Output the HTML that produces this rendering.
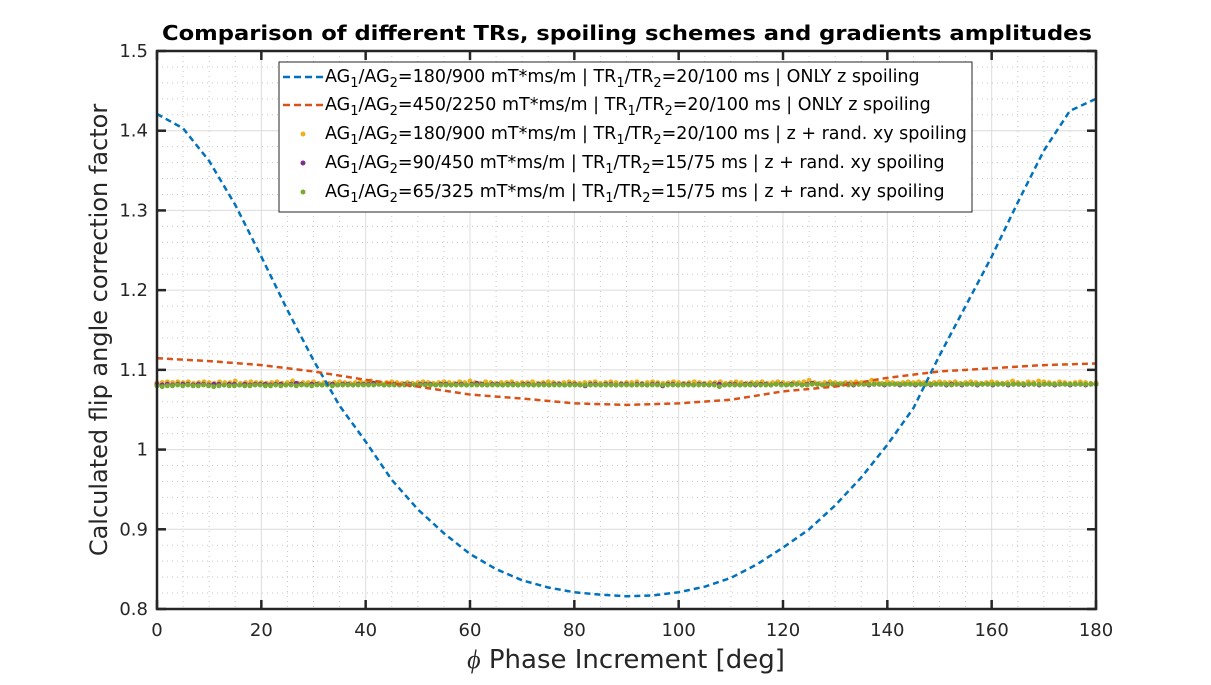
<!DOCTYPE html>
<html><head><meta charset="utf-8"><style>
body{margin:0;background:#fff}
svg{display:block;font-family:"DejaVu Sans","Liberation Sans",sans-serif}
</style></head><body>
<svg id="chart" width="1211" height="685" viewBox="0 0 1211 685">
<text x="627" y="40" text-anchor="middle" font-size="20" font-weight="bold" fill="#000" textLength="930" lengthAdjust="spacingAndGlyphs">Comparison of different TRs, spoiling schemes and gradients amplitudes</text>
<g id="grid"></g>
<g id="series"></g>
<g id="axes"></g>
<text x="626" y="668" text-anchor="middle" font-size="26" fill="#262626"><tspan font-family="Liberation Serif, serif" font-style="italic">ϕ</tspan> Phase Increment [deg]</text>
<text transform="translate(107,330) rotate(-90)" text-anchor="middle" font-size="24" fill="#262626">Calculated flip angle correction factor</text>
<g>
<rect x="279" y="62" width="693" height="150" fill="#fff" stroke="#262626" stroke-width="1"/>
<g font-size="17.5" fill="#000">
<line x1="283" y1="77" x2="323" y2="77" stroke="#0072BD" stroke-width="2.5" stroke-dasharray="7,4"/>
<text x="325" y="82">AG<tspan font-size="13" dy="5">1</tspan><tspan dy="-5">/AG</tspan><tspan font-size="13" dy="5">2</tspan><tspan dy="-5">=180/900 mT*ms/m | TR</tspan><tspan font-size="13" dy="5">1</tspan><tspan dy="-5">/TR</tspan><tspan font-size="13" dy="5">2</tspan><tspan dy="-5">=20/100 ms | ONLY z spoiling</tspan></text>
<line x1="283" y1="105" x2="323" y2="105" stroke="#D95319" stroke-width="2.5" stroke-dasharray="7,4"/>
<text x="325" y="110">AG<tspan font-size="13" dy="5">1</tspan><tspan dy="-5">/AG</tspan><tspan font-size="13" dy="5">2</tspan><tspan dy="-5">=450/2250 mT*ms/m | TR</tspan><tspan font-size="13" dy="5">1</tspan><tspan dy="-5">/TR</tspan><tspan font-size="13" dy="5">2</tspan><tspan dy="-5">=20/100 ms | ONLY z spoiling</tspan></text>
<circle cx="303" cy="134" r="2.5" fill="#EDB120"/>
<text x="325" y="139">AG<tspan font-size="13" dy="5">1</tspan><tspan dy="-5">/AG</tspan><tspan font-size="13" dy="5">2</tspan><tspan dy="-5">=180/900 mT*ms/m | TR</tspan><tspan font-size="13" dy="5">1</tspan><tspan dy="-5">/TR</tspan><tspan font-size="13" dy="5">2</tspan><tspan dy="-5">=20/100 ms | z + rand. xy spoiling</tspan></text>
<circle cx="303" cy="163" r="2.5" fill="#7E2F8E"/>
<text x="325" y="168">AG<tspan font-size="13" dy="5">1</tspan><tspan dy="-5">/AG</tspan><tspan font-size="13" dy="5">2</tspan><tspan dy="-5">=90/450 mT*ms/m | TR</tspan><tspan font-size="13" dy="5">1</tspan><tspan dy="-5">/TR</tspan><tspan font-size="13" dy="5">2</tspan><tspan dy="-5">=15/75 ms | z + rand. xy spoiling</tspan></text>
<circle cx="303" cy="192" r="2.5" fill="#77AC30"/>
<text x="325" y="197">AG<tspan font-size="13" dy="5">1</tspan><tspan dy="-5">/AG</tspan><tspan font-size="13" dy="5">2</tspan><tspan dy="-5">=65/325 mT*ms/m | TR</tspan><tspan font-size="13" dy="5">1</tspan><tspan dy="-5">/TR</tspan><tspan font-size="13" dy="5">2</tspan><tspan dy="-5">=15/75 ms | z + rand. xy spoiling</tspan></text>
</g></g>
</svg>
<script>
const xTicks=[0,20,40,60,80,100,120,140,160,180];
const yTicks=[0.8,0.9,1,1.1,1.2,1.3,1.4,1.5];
const yTickLabels=["0.8","0.9","1","1.1","1.2","1.3","1.4","1.5"];
const curveX=[0,5,10,15,20,25,30,35,40,45,50,55,60,65,70,75,80,85,90,95,100,105,110,115,120,125,130,135,140,145,150,155,160,165,170,175,180];
const blueY=[1.421,1.403,1.362,1.307,1.242,1.175,1.112,1.055,1.010,0.962,0.925,0.895,0.869,0.850,0.836,0.827,0.821,0.818,0.816,0.817,0.821,0.828,0.839,0.856,0.877,0.900,0.930,0.965,1.006,1.052,1.118,1.180,1.242,1.310,1.375,1.425,1.440];
const redX=[0,10,20,30,40,50,60,70,80,90,100,110,120,130,140,150,160,170,180];
const redY=[1.1146,1.111,1.106,1.098,1.0875,1.079,1.069,1.064,1.058,1.056,1.058,1.0625,1.073,1.079,1.090,1.098,1.102,1.106,1.108];
const yellowY=[1.084,1.084,1.085,1.084,1.085,1.084,1.085,1.083,1.084,1.085,1.084,1.083,1.085,1.084,1.084,1.086,1.083,1.084,1.085,1.084,1.084,1.083,1.084,1.085,1.083,1.084,1.086,1.083,1.084,1.084,1.085,1.083,1.084,1.083,1.084,1.085,1.084,1.083,1.084,1.085,1.084,1.086,1.084,1.083,1.084,1.085,1.084,1.083,1.084,1.083,1.084,1.085,1.084,1.083,1.084,1.085,1.084,1.083,1.085,1.084,1.086,1.084,1.083,1.085,1.084,1.083,1.084,1.084,1.085,1.083,1.084,1.084,1.085,1.083,1.084,1.085,1.084,1.083,1.084,1.085,1.084,1.083,1.084,1.084,1.085,1.083,1.084,1.085,1.084,1.083,1.084,1.084,1.085,1.083,1.084,1.085,1.084,1.083,1.084,1.085,1.084,1.083,1.084,1.085,1.084,1.083,1.084,1.084,1.085,1.083,1.084,1.085,1.084,1.083,1.084,1.084,1.085,1.083,1.084,1.085,1.084,1.083,1.084,1.084,1.085,1.087,1.084,1.083,1.084,1.085,1.084,1.083,1.084,1.084,1.085,1.084,1.083,1.087,1.084,1.083,1.085,1.084,1.083,1.084,1.085,1.084,1.085,1.084,1.083,1.084,1.085,1.084,1.084,1.085,1.083,1.084,1.085,1.084,1.083,1.084,1.085,1.084,1.083,1.084,1.086,1.084,1.083,1.085,1.084,1.086,1.085,1.084,1.083,1.085,1.084,1.083,1.084,1.085,1.084,1.083,1.084];
const purpleY=[1.082,1.081,1.082,1.081,1.082,1.082,1.082,1.081,1.082,1.082,1.081,1.082,1.082,1.081,1.082,1.082,1.081,1.082,1.081,1.082,1.082,1.082,1.081,1.082,1.082,1.081,1.082,1.083,1.082,1.081,1.082,1.082,1.081,1.082,1.082,1.081,1.082,1.082,1.081,1.082,1.082,1.082,1.083,1.082,1.081,1.082,1.082,1.081,1.082,1.082,1.081,1.082,1.082,1.082,1.081,1.082,1.082,1.081,1.082,1.082,1.081,1.082,1.083,1.082,1.081,1.082,1.082,1.081,1.082,1.082,1.081,1.082,1.082,1.081,1.082,1.082,1.081,1.082,1.082,1.081,1.082,1.082,1.081,1.080,1.082,1.082,1.081,1.082,1.082,1.081,1.082,1.082,1.081,1.082,1.082,1.081,1.082,1.082,1.080,1.082,1.082,1.081,1.082,1.082,1.081,1.082,1.082,1.081,1.082,1.082,1.081,1.082,1.082,1.081,1.082,1.082,1.081,1.082,1.082,1.081,1.082,1.082,1.081,1.082,1.082,1.081,1.082,1.083,1.082,1.081,1.082,1.082,1.081,1.082,1.082,1.081,1.082,1.082,1.081,1.082,1.082,1.081,1.082,1.082,1.081,1.082,1.082,1.081,1.082,1.082,1.081,1.082,1.082,1.081,1.082,1.082,1.081,1.082,1.082,1.081,1.082,1.082,1.081,1.082,1.082,1.081,1.082,1.082,1.081,1.082,1.082,1.081,1.082,1.082,1.081,1.082,1.082,1.081,1.082,1.082,1.081,1.082,1.082];
const greenY=[1.080,1.079,1.080,1.080,1.081,1.080,1.081,1.080,1.080,1.081,1.080,1.079,1.080,1.081,1.080,1.080,1.081,1.080,1.080,1.081,1.081,1.080,1.080,1.081,1.080,1.081,1.081,1.080,1.081,1.081,1.080,1.081,1.081,1.081,1.080,1.081,1.081,1.081,1.081,1.081,1.081,1.081,1.081,1.082,1.081,1.081,1.081,1.081,1.081,1.081,1.081,1.081,1.081,1.081,1.081,1.081,1.081,1.081,1.081,1.081,1.081,1.081,1.081,1.081,1.081,1.081,1.081,1.081,1.081,1.081,1.081,1.081,1.081,1.081,1.081,1.081,1.081,1.081,1.081,1.081,1.081,1.081,1.081,1.081,1.081,1.081,1.081,1.081,1.081,1.081,1.081,1.081,1.081,1.081,1.081,1.081,1.081,1.081,1.081,1.081,1.081,1.081,1.081,1.081,1.081,1.081,1.081,1.081,1.081,1.079,1.081,1.081,1.081,1.081,1.081,1.081,1.082,1.081,1.081,1.081,1.082,1.081,1.081,1.081,1.082,1.081,1.081,1.082,1.082,1.081,1.081,1.082,1.082,1.082,1.081,1.082,1.082,1.082,1.082,1.082,1.082,1.082,1.082,1.082,1.082,1.082,1.082,1.082,1.082,1.082,1.082,1.082,1.082,1.082,1.081,1.082,1.082,1.082,1.082,1.082,1.082,1.082,1.082,1.082,1.082,1.082,1.082,1.082,1.082,1.082,1.082,1.082,1.082,1.082,1.082,1.082,1.082,1.082,1.082,1.082,1.082,1.082,1.082];
const NS="http://www.w3.org/2000/svg";
const L=157,R=1096,T=51,B=609;
function sx(v){return L+(v-0)/(180-0)*(R-L);}
function sy(v){return B-(v-0.8)/(1.5-0.8)*(B-T);}
function mk(tag,attrs,parent){const e=document.createElementNS(NS,tag);for(const k in attrs)e.setAttribute(k,attrs[k]);parent.appendChild(e);return e;}
const grid=document.getElementById('grid'),series=document.getElementById('series'),axes=document.getElementById('axes');
mk('rect',{x:L,y:T,width:R-L,height:B-T,fill:'#fff'},grid);
for(let v=0;v<=180;v+=5){if(v%20===0)continue;const g=mk('line',{x1:sx(v),x2:sx(v),y1:T,y2:B,stroke:'#c8c8c8','stroke-width':1,'stroke-dasharray':'1,4'},grid);

}
for(let i=0;i<=35;i++){const v=0.8+i*0.02;if(i%5===0)continue;const g=mk('line',{x1:L,x2:R,y1:sy(v),y2:sy(v),stroke:'#c8c8c8','stroke-width':1,'stroke-dasharray':'1,4'},grid);

}
xTicks.forEach(v=>{const g=mk('line',{x1:sx(v),x2:sx(v),y1:T,y2:B,stroke:'#dcdcdc','stroke-width':1},grid);

});
yTicks.forEach(v=>{const g=mk('line',{x1:L,x2:R,y1:sy(v),y2:sy(v),stroke:'#dcdcdc','stroke-width':1},grid);

});
function dots(arr,color,name){arr.forEach((v,i)=>{const c=mk('circle',{cx:sx(i*180/(arr.length-1)),cy:sy(v),r:2.5,fill:color},series);

});}
dots(yellowY,'#EDB120','yellow-point');
dots(purpleY,'#7E2F8E','purple-point');
dots(greenY,'#77AC30','green-point');
const pb=mk('polyline',{points:curveX.map((x,i)=>sx(x)+','+sy(blueY[i])).join(' '),fill:'none',stroke:'#0072BD','stroke-width':2.5,'stroke-dasharray':'6,4'},series);


const pr=mk('polyline',{points:redX.map((x,i)=>sx(x)+','+sy(redY[i])).join(' '),fill:'none',stroke:'#D95319','stroke-width':2.5,'stroke-dasharray':'6,4'},series);


const box=mk('rect',{x:L,y:T,width:R-L,height:B-T,fill:'none',stroke:'#262626','stroke-width':2.5},axes);


xTicks.forEach(v=>{
mk('line',{x1:sx(v),x2:sx(v),y1:B,y2:B-9,stroke:'#262626','stroke-width':2.5},axes);
mk('line',{x1:sx(v),x2:sx(v),y1:T,y2:T+9,stroke:'#262626','stroke-width':2.5},axes);
const t=mk('text',{x:sx(v),y:B+27,'text-anchor':'middle','font-size':18,fill:'#262626'},axes);t.textContent=v;

});
yTicks.forEach((v,i)=>{
mk('line',{x1:L,x2:L+9,y1:sy(v),y2:sy(v),stroke:'#262626','stroke-width':2.5},axes);
mk('line',{x1:R,x2:R-9,y1:sy(v),y2:sy(v),stroke:'#262626','stroke-width':2.5},axes);
const t=mk('text',{x:L-9,y:sy(v)+6,'text-anchor':'end','font-size':18,fill:'#262626'},axes);t.textContent=yTickLabels[i];

});
</script>
</body></html>
